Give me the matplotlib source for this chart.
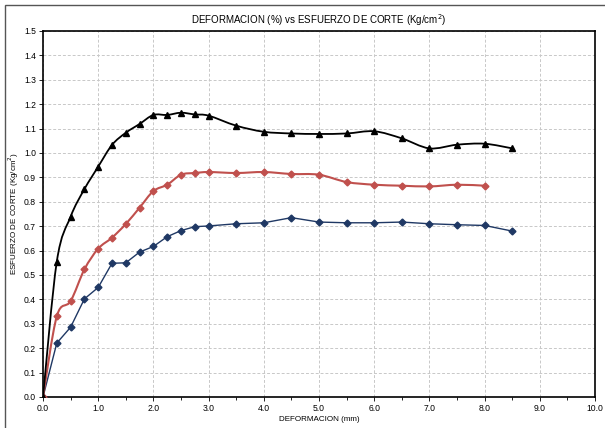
import matplotlib
matplotlib.use("Agg")
import matplotlib.pyplot as plt
import numpy as np
from matplotlib.patches import Rectangle, PathPatch
from matplotlib.path import Path
from matplotlib.ticker import MultipleLocator
from matplotlib import font_manager

names = {f.name for f in font_manager.fontManager.ttflist}
fam = "Liberation Sans Narrow" if "Liberation Sans Narrow" in names else "Liberation Sans"
plt.rcParams['font.family'] = [fam, 'DejaVu Sans']

deform = [0, 0.25, 0.5, 0.75, 1.0, 1.25, 1.5, 1.75, 2.0, 2.25, 2.5, 2.75, 3.0,
          3.5, 4.0, 4.5, 5.0, 5.5, 6.0, 6.5, 7.0, 7.5, 8.0, 8.5]
black_vals = [0, 0.555, 0.739, 0.852, 0.944, 1.033, 1.083, 1.119, 1.156, 1.156,
              1.165, 1.158, 1.153, 1.112, 1.087, 1.080, 1.078, 1.080, 1.089,
              1.060, 1.019, 1.034, 1.038, 1.019]
red_vals = [0, 0.331, 0.393, 0.523, 0.608, 0.653, 0.709, 0.776, 0.844, 0.870,
            0.911, 0.918, 0.922, 0.918, 0.922, 0.914, 0.911, 0.881, 0.870,
            0.866, 0.863, 0.870, 0.866]
blue_vals = [0, 0.221, 0.286, 0.402, 0.449, 0.548, 0.550, 0.594, 0.617, 0.657,
             0.682, 0.698, 0.701, 0.710, 0.714, 0.735, 0.717, 0.714, 0.714,
             0.717, 0.710, 0.706, 0.703, 0.680]


def smooth_path(ax, xs, ys):
    """Catmull-Rom style smoothing (as in spreadsheet 'smoothed line'), computed in display space."""
    pts = ax.transData.transform(np.column_stack([xs, ys]))
    n = len(pts)
    verts = [pts[0]]
    codes = [Path.MOVETO]
    for i in range(n - 1):
        p0 = pts[i - 1] if i > 0 else pts[i]
        p1 = pts[i]
        p2 = pts[i + 1]
        p3 = pts[i + 2] if i + 2 < n else pts[i + 1]
        c1 = p1 + (p2 - p0) / 6.0
        c2 = p2 - (p3 - p1) / 6.0
        verts += [c1, c2, p2]
        codes += [Path.CURVE4] * 3
    verts = ax.transData.inverted().transform(np.array(verts))
    return Path(verts, codes)


fig = plt.figure(figsize=(6.05, 4.28), dpi=100)
fig.patches.append(Rectangle((5/605, -0.1), 1.2, 1 - 5/428 + 0.1, transform=fig.transFigure,
                             fill=False, edgecolor='#555555', linewidth=1.0))
ax = fig.add_axes([43/605, 1 - 397/428, (595-43)/605, (397-31)/428])
ax.set_xlim(0, 10)
ax.set_ylim(0, 1.5)

ax.plot(deform, blue_vals, color='#1F3864', lw=1.0, marker='D', ms=3.5, zorder=3)

rx = deform[:len(red_vals)]
ax.add_patch(PathPatch(smooth_path(ax, rx, red_vals), fill=False, edgecolor='#C0504D', lw=1.5, zorder=3))
ax.plot(rx, red_vals, color='#C0504D', lw=0, marker='D', ms=3.5, zorder=3)

ax.add_patch(PathPatch(smooth_path(ax, deform, black_vals), fill=False, edgecolor='black', lw=1.3, zorder=4))
ax.plot(deform, black_vals, color='black', lw=0, marker='^', ms=5, zorder=4)

ax.xaxis.set_major_locator(MultipleLocator(1))
ax.xaxis.set_minor_locator(MultipleLocator(0.5))
ax.yaxis.set_major_locator(MultipleLocator(0.1))
ax.xaxis.set_major_formatter(plt.FuncFormatter(lambda v, p: f"{v:.1f}"))
ax.yaxis.set_major_formatter(plt.FuncFormatter(lambda v, p: f"{v:.1f}"))
ax.tick_params(axis='both', labelsize=6.2, length=3, width=0.6, direction='out', pad=2)
ax.tick_params(axis='x', which='minor', length=2, width=0.6)
ax.grid(True, which='major', linestyle=(0, (3, 2)), color='#c8c8c8', linewidth=0.7)
ax.set_axisbelow(True)
for s in ax.spines.values():
    s.set_linewidth(1.2)
    s.set_color('black')

ax.set_title("DEFORMACION (%) vs ESFUERZO DE CORTE (Kg/cm$^2$)", fontsize=7, pad=5)
ax.set_xlabel("DEFORMACION (mm)", fontsize=5.8, labelpad=2)
ax.set_ylabel("ESFUERZO DE CORTE (Kg/cm$^2$)", fontsize=5.8, labelpad=2)

fig.savefig("out.png", dpi=100)
